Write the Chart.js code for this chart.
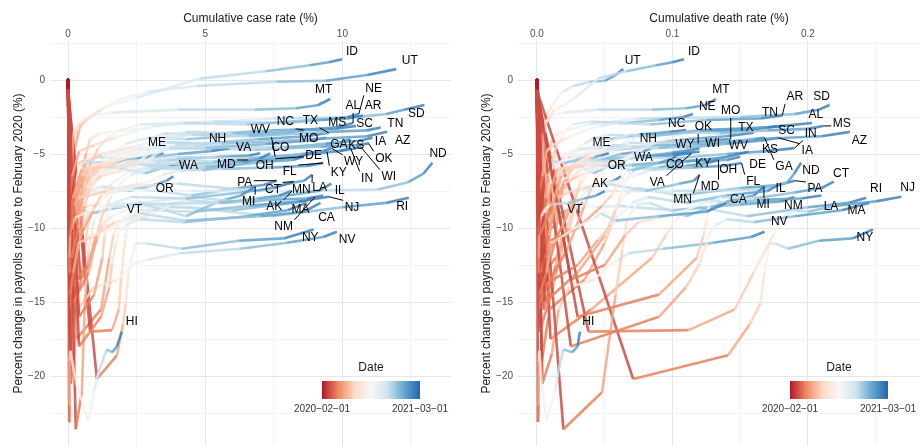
<!DOCTYPE html>
<html>
<head>
<meta charset="utf-8">
<script src="https://cdn.jsdelivr.net/npm/chart.js@4.4.0/dist/chart.umd.min.js"></script>
<style>
  body { margin: 0; background: #fff; width: 923px; height: 446px; overflow: hidden; position: relative; }
  .panel { position: absolute; top: 0; height: 446px; }
  #leftPanel { left: 0; width: 461px; }
  #rightPanel { left: 468px; width: 455px; }
</style>
</head>
<body>
<div class="panel" id="leftPanel"><canvas id="caseChart" width="461" height="446"></canvas></div>
<div class="panel" id="rightPanel"><canvas id="deathChart" width="455" height="446"></canvas></div>
<script>
// monthly observations, Feb 2020 .. Mar 2021
const months = ['2020-02-01','2020-03-01','2020-04-01','2020-05-01','2020-06-01','2020-07-01','2020-08-01',
                '2020-09-01','2020-10-01','2020-11-01','2020-12-01','2021-01-01','2021-02-01','2021-03-01'];

const states = ['AL','AK','AZ','AR','CA','CO','CT','DE','FL','GA','HI','ID','IL','IN','IA','KS','KY',
                'LA','ME','MD','MA','MI','MN','MS','MO','MT','NE','NV','NH','NJ','NM','NY','NC','ND',
                'OH','OK','OR','PA','RI','SC','SD','TN','TX','UT','VT','VA','WA','WV','WI','WY'];

// cumulative case rate (%), one row per state
const caseRate = [
  [0,0.002,0.07,0.22,0.55,1.2,2.2,2.85,3.45,4.5,6.6,8.4,9.8,10.39],
  [0,0.001,0.04,0.05,0.08,0.25,0.6,0.95,1.4,2.3,5.5,6.9,7.7,8.16],
  [0,0.002,0.05,0.17,0.5,1.75,2.6,2.9,3.1,3.6,5.6,8.8,10.9,11.63],
  [0,0.002,0.05,0.15,0.4,0.95,1.7,2.4,3.1,4.2,6.5,8.9,10.2,10.75],
  [0,0.002,0.07,0.19,0.38,0.85,1.5,1.95,2.2,2.6,4.3,7.0,8.6,9.2],
  [0,0.005,0.13,0.37,0.52,0.65,0.85,1.05,1.35,2.6,4.9,6.4,7.0,7.37],
  [0,0.005,0.4,0.95,1.25,1.33,1.39,1.47,1.67,2.3,4.3,6.3,7.5,8.22],
  [0,0.003,0.2,0.75,1.05,1.3,1.6,1.9,2.3,3.0,5.0,7.0,8.4,9.0],
  [0,0.004,0.1,0.2,0.35,1.4,2.6,3.1,3.45,4.1,5.6,7.5,8.7,9.3],
  [0,0.002,0.12,0.35,0.55,1.2,2.2,2.8,3.2,3.7,5.0,7.2,8.8,9.4],
  [0,0.001,0.037,0.045,0.052,0.08,0.3,0.74,0.95,1.1,1.41,1.6,1.78,1.96],
  [0,0.001,0.08,0.13,0.2,0.6,1.2,1.55,2.5,4.8,7.2,8.8,9.5,9.99],
  [0,0.002,0.19,0.7,1.05,1.25,1.6,2.1,2.6,4.5,6.6,8.0,9.1,9.6],
  [0,0.002,0.1,0.37,0.6,0.8,1.2,1.6,2.1,4.0,6.6,8.7,9.9,10.3],
  [0,0.001,0.06,0.45,0.75,1.05,1.55,2.4,3.4,5.8,7.9,9.4,10.6,11.1],
  [0,0.001,0.05,0.25,0.4,0.75,1.3,1.8,2.6,4.6,7.2,8.9,9.9,10.3],
  [0,0.001,0.05,0.15,0.28,0.45,0.8,1.2,1.7,3.1,5.3,7.6,8.9,9.44],
  [0,0.01,0.45,0.75,1.0,1.7,2.9,3.4,3.7,4.3,5.6,7.3,8.7,9.3],
  [0,0.002,0.05,0.1,0.2,0.26,0.31,0.36,0.42,0.65,1.5,2.5,3.1,3.48],
  [0,0.003,0.16,0.6,1.0,1.2,1.6,1.9,2.2,2.9,4.3,5.5,6.3,6.58],
  [0,0.005,0.4,1.2,1.5,1.6,1.75,1.85,2.1,2.6,4.2,6.5,8.0,8.7],
  [0,0.003,0.28,0.5,0.62,0.75,0.95,1.15,1.45,2.6,4.3,5.5,6.3,6.82],
  [0,0.001,0.04,0.24,0.55,0.75,1.15,1.55,2.1,4.0,6.9,8.0,8.6,8.9],
  [0,0.003,0.1,0.35,0.65,1.2,2.4,3.0,3.5,4.3,6.0,8.1,9.5,10.0],
  [0,0.002,0.07,0.17,0.27,0.5,1.05,1.6,2.4,3.9,5.9,7.4,8.3,8.6],
  [0,0.002,0.04,0.045,0.06,0.2,0.45,0.8,1.6,4.0,6.8,8.3,9.1,9.56],
  [0,0.001,0.05,0.5,0.85,1.1,1.45,1.9,2.6,5.3,7.9,9.3,10.2,10.6],
  [0,0.002,0.1,0.22,0.35,0.95,1.8,2.38,2.87,4.09,6.28,7.98,9.3,9.8],
  [0,0.002,0.06,0.24,0.38,0.45,0.52,0.58,0.7,1.1,2.4,4.0,5.2,5.9],
  [0,0.01,0.8,1.6,1.85,1.95,2.1,2.2,2.4,3.1,4.6,6.6,8.4,9.5],
  [0,0.002,0.08,0.27,0.45,0.7,1.1,1.3,1.6,3.4,6.0,7.7,8.6,9.0],
  [0,0.01,1.05,1.78,2.0,2.1,2.2,2.35,2.45,2.87,4.15,6.22,7.86,8.95],
  [0,0.001,0.05,0.18,0.4,0.8,1.3,1.7,2.1,2.9,4.3,6.6,8.0,8.59],
  [0,0.001,0.04,0.2,0.42,0.55,1.0,2.0,4.5,8.2,11.3,12.4,12.97,13.28],
  [0,0.002,0.07,0.22,0.35,0.55,0.95,1.25,1.6,3.2,5.8,7.4,8.2,8.59],
  [0,0.001,0.05,0.13,0.22,0.6,1.2,1.8,2.6,4.3,6.8,9.2,10.5,10.96],
  [0,0.002,0.04,0.08,0.14,0.3,0.5,0.68,0.85,1.25,2.2,3.1,3.6,3.84],
  [0,0.002,0.2,0.47,0.63,0.72,0.9,1.1,1.35,2.4,4.5,6.2,7.1,7.6],
  [0,0.003,0.3,1.2,1.5,1.65,1.85,2.1,2.6,4.3,7.4,10.0,11.6,12.42],
  [0,0.002,0.07,0.17,0.4,1.1,2.0,2.5,2.9,3.5,4.8,7.4,9.7,10.5],
  [0,0.001,0.1,0.45,0.65,0.8,1.15,2.1,3.8,7.5,10.5,11.6,12.25,12.99],
  [0,0.002,0.08,0.22,0.45,0.9,1.75,2.6,3.3,4.4,6.7,9.5,10.9,11.4],
  [0,0.001,0.05,0.15,0.3,0.95,1.9,2.4,2.8,3.5,4.9,6.9,8.7,9.5],
  [0,0.002,0.07,0.2,0.45,0.95,1.4,1.85,2.9,4.7,7.6,9.4,10.9,11.96],
  [0,0.002,0.12,0.15,0.18,0.21,0.25,0.28,0.33,0.5,0.92,1.6,2.2,2.69],
  [0,0.001,0.07,0.3,0.6,0.85,1.2,1.5,1.9,2.4,3.6,5.4,6.6,7.0],
  [0,0.01,0.14,0.24,0.33,0.55,0.85,1.05,1.25,1.75,2.8,3.7,4.1,4.33],
  [0,0.001,0.04,0.08,0.13,0.27,0.5,0.8,1.1,1.9,3.8,5.9,7.1,7.55],
  [0,0.001,0.06,0.2,0.4,0.65,1.2,1.7,2.8,5.6,7.9,9.3,10.3,10.66],
  [0,0.001,0.05,0.12,0.2,0.35,0.65,0.95,1.6,3.7,6.7,8.5,9.3,9.6]
];

// cumulative death rate (%), one row per state
const deathRate = [
  [0,0,0.002,0.011,0.018,0.025,0.04,0.05,0.058,0.068,0.085,0.12,0.17,0.203],
  [0,0,0.0012,0.0013,0.0016,0.0025,0.0045,0.0065,0.009,0.012,0.023,0.035,0.044,0.05],
  [0,0,0.002,0.008,0.015,0.035,0.063,0.074,0.079,0.088,0.115,0.16,0.21,0.231],
  [0,0,0.001,0.004,0.007,0.012,0.022,0.033,0.046,0.06,0.083,0.125,0.165,0.181],
  [0,0,0.002,0.007,0.011,0.018,0.028,0.037,0.043,0.047,0.058,0.09,0.125,0.14],
  [0,0,0.006,0.018,0.028,0.031,0.033,0.035,0.038,0.045,0.07,0.09,0.1,0.105],
  [0,0,0.03,0.09,0.118,0.123,0.125,0.126,0.128,0.136,0.16,0.19,0.21,0.219],
  [0,0,0.006,0.03,0.05,0.058,0.062,0.065,0.068,0.075,0.09,0.11,0.14,0.156],
  [0,0,0.003,0.009,0.014,0.025,0.046,0.063,0.074,0.083,0.096,0.115,0.138,0.151],
  [0,0,0.005,0.013,0.02,0.03,0.045,0.06,0.07,0.078,0.09,0.115,0.15,0.168],
  [0,0,0.0007,0.0012,0.0012,0.0017,0.0035,0.007,0.0135,0.0155,0.0195,0.026,0.03,0.0317],
  [0,0,0.002,0.004,0.005,0.007,0.013,0.02,0.028,0.045,0.066,0.088,0.1,0.1085],
  [0,0,0.006,0.03,0.045,0.055,0.06,0.065,0.07,0.082,0.11,0.14,0.17,0.18],
  [0,0,0.005,0.022,0.035,0.04,0.045,0.051,0.057,0.068,0.1,0.14,0.17,0.19],
  [0,0,0.002,0.012,0.021,0.025,0.031,0.039,0.05,0.07,0.11,0.14,0.165,0.178],
  [0,0,0.002,0.006,0.008,0.011,0.016,0.022,0.03,0.045,0.08,0.12,0.15,0.165],
  [0,0,0.003,0.008,0.011,0.014,0.02,0.025,0.03,0.038,0.055,0.075,0.1,0.12],
  [0,0,0.025,0.05,0.065,0.075,0.095,0.11,0.12,0.128,0.14,0.165,0.195,0.21],
  [0,0,0.0015,0.004,0.007,0.0085,0.0095,0.01,0.011,0.012,0.02,0.035,0.047,0.053],
  [0,0,0.006,0.03,0.048,0.055,0.06,0.063,0.067,0.072,0.085,0.11,0.126,0.134],
  [0,0,0.025,0.09,0.11,0.12,0.125,0.128,0.132,0.14,0.16,0.19,0.225,0.245],
  [0,0,0.0195,0.048,0.058,0.063,0.066,0.069,0.074,0.083,0.11,0.14,0.16,0.1675],
  [0,0,0.002,0.014,0.024,0.027,0.031,0.035,0.041,0.052,0.08,0.105,0.116,0.12],
  [0,0,0.004,0.018,0.028,0.038,0.07,0.09,0.1,0.112,0.135,0.17,0.2,0.211],
  [0,0,0.002,0.006,0.014,0.018,0.022,0.03,0.042,0.055,0.075,0.1,0.125,0.143],
  [0,0,0.0012,0.0015,0.0019,0.003,0.007,0.012,0.02,0.045,0.085,0.11,0.124,0.132],
  [0,0,0.001,0.006,0.011,0.014,0.018,0.021,0.026,0.04,0.065,0.09,0.108,0.115],
  [0,0,0.004,0.011,0.016,0.024,0.042,0.055,0.06,0.068,0.093,0.13,0.158,0.168],
  [0,0,0.002,0.012,0.022,0.029,0.031,0.032,0.034,0.037,0.047,0.062,0.079,0.085],
  [0,0,0.038,0.112,0.146,0.16,0.175,0.179,0.183,0.19,0.2,0.22,0.25,0.269],
  [0,0,0.002,0.014,0.022,0.028,0.033,0.038,0.043,0.06,0.1,0.15,0.18,0.19],
  [0,0.001,0.071,0.141,0.157,0.165,0.168,0.17,0.172,0.176,0.185,0.208,0.233,0.248],
  [0,0,0.0015,0.006,0.011,0.015,0.022,0.029,0.035,0.042,0.054,0.075,0.098,0.11],
  [0,0,0.0012,0.005,0.01,0.011,0.015,0.025,0.05,0.1,0.165,0.185,0.19,0.195],
  [0,0,0.005,0.014,0.021,0.026,0.032,0.037,0.042,0.05,0.07,0.1,0.14,0.15],
  [0,0,0.003,0.007,0.009,0.011,0.017,0.022,0.03,0.042,0.058,0.08,0.1,0.119],
  [0,0,0.002,0.0033,0.0043,0.006,0.0085,0.012,0.015,0.018,0.027,0.045,0.057,0.062],
  [0,0,0.009,0.035,0.05,0.055,0.058,0.062,0.066,0.074,0.105,0.15,0.178,0.19],
  [0,0,0.01,0.04,0.085,0.095,0.1,0.105,0.11,0.12,0.155,0.2,0.23,0.243],
  [0,0,0.002,0.008,0.012,0.022,0.045,0.06,0.07,0.077,0.09,0.12,0.16,0.18],
  [0,0,0.0008,0.005,0.009,0.011,0.0155,0.022,0.038,0.075,0.15,0.19,0.208,0.216],
  [0,0,0.002,0.005,0.008,0.011,0.02,0.03,0.04,0.053,0.075,0.12,0.155,0.17],
  [0,0,0.001,0.004,0.007,0.013,0.033,0.05,0.058,0.066,0.08,0.11,0.14,0.16],
  [0,0,0.0005,0.002,0.004,0.007,0.011,0.014,0.019,0.027,0.039,0.05,0.058,0.0637],
  [0,0,0.0035,0.0085,0.0088,0.009,0.0092,0.0093,0.0094,0.01,0.016,0.025,0.031,0.034],
  [0,0,0.002,0.012,0.019,0.024,0.03,0.035,0.04,0.044,0.052,0.07,0.1,0.114],
  [0,0.0005,0.007,0.013,0.016,0.019,0.024,0.027,0.029,0.033,0.042,0.053,0.062,0.067],
  [0,0,0.001,0.003,0.005,0.0055,0.009,0.015,0.023,0.033,0.06,0.1,0.13,0.14],
  [0,0,0.0035,0.007,0.012,0.014,0.017,0.02,0.027,0.044,0.075,0.1,0.115,0.12],
  [0,0,0.0007,0.0012,0.0017,0.0035,0.005,0.0085,0.011,0.02,0.055,0.095,0.11,0.12]
];

// percent change in payrolls relative to Feb 2020, one row per state
const payrollChange = [
  [0,-0.6,-10.5,-8.5,-6.5,-5.8,-5.2,-4.6,-4.0,-3.7,-3.8,-3.4,-3.2,-2.9],
  [0,-0.8,-13.0,-12.0,-10.2,-9.3,-9.0,-8.7,-8.5,-8.4,-8.3,-8.0,-7.8,-7.5],
  [0,-0.5,-9.5,-8.0,-6.0,-5.8,-5.5,-5.0,-4.6,-4.2,-4.3,-4.0,-3.8,-3.5],
  [0,-0.5,-8.0,-6.5,-4.8,-4.4,-3.9,-3.5,-3.1,-2.9,-3.0,-2.7,-2.6,-2.4],
  [0,-0.6,-14.5,-13.0,-11.0,-10.6,-10.0,-9.6,-9.3,-9.0,-9.5,-9.2,-8.9,-8.3],
  [0,-0.7,-12.0,-10.0,-8.0,-7.3,-6.8,-6.5,-6.0,-5.7,-6.1,-5.6,-5.3,-4.95],
  [0,-0.8,-16.0,-14.5,-12.0,-10.5,-9.5,-8.8,-8.3,-7.9,-8.0,-7.6,-7.3,-6.87],
  [0,-0.7,-15.0,-13.0,-10.5,-8.8,-7.8,-7.0,-6.4,-6.0,-5.9,-5.5,-5.2,-4.85],
  [0,-0.6,-13.0,-10.5,-8.0,-7.5,-7.0,-6.8,-6.4,-6.1,-6.0,-5.9,-5.8,-5.6],
  [0,-0.5,-11.0,-9.0,-7.0,-6.5,-6.0,-5.6,-5.0,-4.6,-4.6,-4.3,-4.1,-3.9],
  [0,-0.8,-23.1,-22.0,-19.0,-18.3,-20.5,-23.0,-21.0,-19.8,-18.2,-18.4,-18.0,-17.0],
  [0,-0.5,-9.0,-6.0,-3.8,-2.8,-2.0,-1.7,-1.2,0.1,0.6,1.0,1.2,1.4],
  [0,-0.6,-13.8,-12.5,-10.8,-9.8,-9.2,-8.8,-8.3,-7.9,-8.3,-7.8,-7.5,-7.0],
  [0,-0.7,-14.3,-11.5,-8.5,-7.3,-6.5,-6.0,-5.5,-5.2,-5.3,-5.0,-4.8,-4.6],
  [0,-0.6,-10.5,-8.5,-6.7,-6.0,-5.5,-5.1,-4.7,-4.5,-4.6,-4.3,-4.1,-3.9],
  [0,-0.5,-9.8,-8.0,-6.5,-6.0,-5.6,-5.2,-4.7,-4.5,-4.6,-4.4,-4.2,-4.0],
  [0,-0.7,-15.0,-12.0,-8.5,-7.5,-6.8,-6.3,-5.8,-5.4,-5.5,-5.2,-5.0,-4.84],
  [0,-0.6,-13.5,-12.5,-10.5,-9.6,-9.2,-8.8,-8.4,-8.1,-8.3,-8.1,-8.0,-7.8],
  [0,-0.7,-15.5,-12.5,-9.0,-7.5,-6.8,-6.3,-5.8,-5.5,-5.6,-5.3,-5.1,-4.95],
  [0,-0.6,-11.0,-10.0,-8.5,-7.8,-7.0,-6.6,-6.2,-5.9,-6.0,-5.8,-5.6,-5.4],
  [0,-0.8,-18.0,-16.0,-14.0,-12.4,-11.0,-10.3,-9.8,-9.4,-9.6,-9.2,-8.8,-8.3],
  [0,-1.0,-23.6,-21.1,-14.5,-11.5,-9.5,-9.0,-8.4,-8.3,-9.2,-8.2,-7.8,-7.2],
  [0,-0.7,-13.4,-12.0,-10.0,-9.0,-8.2,-7.6,-7.2,-7.0,-7.5,-7.0,-6.8,-6.4],
  [0,-0.6,-9.5,-7.5,-5.6,-5.0,-4.5,-4.2,-3.8,-3.5,-3.6,-3.4,-3.3,-3.1],
  [0,-0.6,-11.0,-9.0,-7.0,-6.2,-5.6,-5.1,-4.7,-4.4,-4.5,-4.3,-4.1,-4.0],
  [0,-0.7,-10.5,-7.0,-4.5,-3.5,-2.8,-2.4,-2.2,-2.0,-2.0,-1.9,-1.7,-1.28],
  [0,-0.5,-8.5,-7.0,-5.5,-4.6,-3.9,-3.4,-3.0,-2.8,-2.9,-2.7,-2.5,-2.3],
  [0,-1.0,-20.5,-18.5,-15.5,-14.0,-13.5,-12.4,-12.16,-11.7,-11.4,-11.0,-10.6,-10.25],
  [0,-0.8,-17.0,-14.0,-10.0,-8.0,-7.0,-6.2,-5.6,-5.2,-5.4,-5.0,-4.8,-4.6],
  [0,-1.0,-17.0,-16.9,-15.5,-13.0,-10.4,-9.6,-9.2,-8.8,-8.9,-8.5,-8.2,-7.88],
  [0,-0.5,-10.5,-9.8,-8.8,-8.5,-8.4,-8.5,-8.6,-8.5,-8.8,-8.4,-8.2,-7.9],
  [0,-1.0,-20.2,-18.6,-16.5,-15.1,-13.0,-11.8,-11.04,-11.04,-11.4,-10.86,-10.7,-10.1],
  [0,-0.6,-12.0,-10.0,-7.5,-6.5,-5.6,-4.9,-4.3,-3.9,-4.0,-3.7,-3.5,-3.38],
  [0,-0.6,-10.5,-9.0,-7.8,-7.6,-7.5,-7.4,-7.5,-7.5,-7.4,-6.9,-6.3,-5.59],
  [0,-0.7,-15.5,-12.5,-9.5,-8.0,-7.0,-6.4,-5.9,-5.6,-5.8,-5.5,-5.4,-5.18],
  [0,-0.6,-9.2,-7.2,-5.8,-5.4,-5.1,-4.9,-4.7,-4.6,-4.7,-4.5,-4.4,-4.28],
  [0,-0.5,-13.0,-11.0,-9.5,-8.8,-8.2,-7.8,-7.4,-7.2,-7.5,-7.1,-6.8,-6.5],
  [0,-0.8,-15.5,-13.5,-11.0,-9.8,-8.8,-8.2,-7.7,-7.3,-7.8,-7.3,-7.1,-6.8],
  [0,-1.0,-17.5,-15.5,-12.0,-10.5,-9.8,-9.2,-8.8,-8.6,-9.2,-8.6,-8.3,-7.95],
  [0,-0.6,-12.0,-9.5,-7.0,-6.2,-5.5,-4.7,-4.0,-3.6,-3.7,-3.4,-3.3,-3.1],
  [0,-0.5,-8.5,-6.8,-5.0,-4.0,-3.6,-3.4,-3.0,-2.6,-2.5,-2.3,-2.0,-1.69],
  [0,-0.5,-12.0,-9.5,-7.2,-6.0,-5.2,-4.6,-4.0,-3.7,-3.8,-3.5,-3.4,-3.2],
  [0,-0.6,-10.0,-8.5,-6.8,-6.2,-5.6,-5.1,-4.6,-4.2,-4.3,-4.0,-3.8,-3.56],
  [0,-0.6,-7.0,-5.0,-3.0,-2.3,-1.8,-1.3,-0.8,-0.4,-0.11,-0.05,0.34,0.74],
  [0,-0.8,-19.0,-16.0,-12.5,-10.5,-9.5,-9.0,-8.7,-8.8,-9.0,-8.67,-8.5,-8.27],
  [0,-0.6,-11.0,-9.5,-7.6,-6.8,-6.2,-5.9,-5.6,-5.3,-5.4,-5.2,-5.1,-4.95],
  [0,-0.7,-13.0,-11.0,-8.5,-7.5,-7.0,-6.6,-6.3,-5.9,-6.3,-5.8,-5.6,-5.29],
  [0,-0.5,-13.0,-10.5,-8.2,-7.2,-6.6,-6.2,-5.9,-5.6,-5.8,-5.5,-5.4,-5.18],
  [0,-0.7,-12.9,-11.0,-8.5,-7.3,-6.5,-6.0,-5.6,-5.2,-5.2,-4.9,-4.7,-4.5],
  [0,-0.5,-8.5,-8.0,-7.2,-6.8,-6.5,-6.2,-5.6,-5.2,-5.3,-5.0,-4.8,-4.6]
];

// where the repelled state labels sit (data units of each panel)
const caseLabelAt = {
  ID:[10.35,1.91], UT:[12.46,1.31], MT:[9.32,-0.63], NE:[11.14,-0.56], AL:[10.38,-1.76], AR:[11.12,-1.76],
  SD:[12.7,-2.25], TN:[11.93,-2.93], SC:[10.81,-2.97], MS:[9.81,-2.88], TX:[8.83,-2.75], NC:[7.92,-2.82],
  IA:[11.39,-4.17], AZ:[12.2,-4.1], MO:[8.77,-3.94], GA:[9.87,-4.35], KS:[10.51,-4.44], OK:[11.51,-5.29],
  WI:[11.69,-6.53], IN:[10.9,-6.64], WY:[10.41,-5.52], KY:[9.87,-6.26], DE:[8.95,-5.14], WV:[7.01,-3.38],
  CO:[7.74,-4.57], VA:[6.4,-4.57], NH:[5.45,-3.94], ME:[3.24,-4.24], MD:[5.77,-5.74], OH:[7.17,-5.79],
  WA:[4.39,-5.81], FL:[8.08,-6.22], PA:[6.44,-6.94], CT:[7.47,-7.39], MN:[8.5,-7.43], LA:[9.17,-7.28],
  IL:[9.9,-7.48], MI:[6.58,-8.22], AK:[7.52,-8.56], OR:[3.52,-7.32], RI:[12.18,-8.56], NJ:[10.35,-8.6],
  MA:[8.47,-8.78], CA:[9.42,-9.3], VT:[2.42,-8.78], ND:[13.49,-5.0], NM:[7.86,-9.91], NY:[8.83,-10.63],
  NV:[10.17,-10.77], HI:[2.32,-16.33]
};
const deathLabelAt = {
  ID:[0.1159,1.91], UT:[0.0706,1.31], MT:[0.1358,-0.63], NE:[0.1257,-1.8], MO:[0.143,-2.09], NC:[0.1031,-2.93],
  OK:[0.1228,-3.15], AR:[0.1904,-1.13], SD:[0.2101,-1.13], TN:[0.172,-2.2], AL:[0.2059,-2.36], MS:[0.2249,-2.93],
  TX:[0.1542,-3.22], SC:[0.1843,-3.42], IN:[0.202,-3.6], AZ:[0.2379,-4.1], NH:[0.0822,-3.94], ME:[0.0477,-4.24],
  WY:[0.1092,-4.39], WI:[0.1297,-4.32], WV:[0.1486,-4.46], KS:[0.172,-4.68], IA:[0.1995,-4.78], WA:[0.0785,-5.23],
  CO:[0.1018,-5.74], KY:[0.1228,-5.63], OH:[0.1412,-6.03], DE:[0.1629,-5.74], GA:[0.1823,-5.86], OR:[0.0588,-5.81],
  ND:[0.2022,-6.15], CT:[0.2244,-6.3], AK:[0.0465,-6.98], VA:[0.0888,-6.94], MD:[0.1277,-7.21], FL:[0.1596,-6.87],
  IL:[0.1798,-7.32], PA:[0.2052,-7.36], RI:[0.2502,-7.36], NJ:[0.2736,-7.28], MN:[0.1075,-8.11], CA:[0.1486,-8.06],
  MI:[0.167,-8.45], NM:[0.1892,-8.51], LA:[0.217,-8.56], MA:[0.2359,-8.83], VT:[0.028,-8.78], NV:[0.1788,-9.57],
  NY:[0.242,-10.63], HI:[0.0379,-16.33]
};

const FONT = '"Liberation Sans", Arial, sans-serif';
Chart.defaults.font.family = FONT;

// RdBu (distiller) ramp, early = red, late = blue
const ramp = ['#b2182b','#ef8a62','#fddbc7','#f7f7f7','#d1e5f0','#67a9cf','#2166ac'];
function hexToRgb(h) { return [1,3,5].map(k => parseInt(h.substr(k,2),16)); }
function colourAt(t, alpha) {
  const pos = Math.min(Math.max(t,0),1) * (ramp.length - 1);
  const k = Math.min(Math.floor(pos), ramp.length - 2);
  const f = pos - k;
  const a = hexToRgb(ramp[k]), b = hexToRgb(ramp[k+1]);
  const c = a.map((v, n) => Math.round(v + (b[n] - v) * f));
  return 'rgba(' + c.join(',') + ',' + alpha + ')';
}
const t0 = Date.parse(months[0]), t1 = Date.parse(months[months.length - 1]);
const monthT = months.map(m => (Date.parse(m) - t0) / (t1 - t0));

function buildDatasets(xRows) {
  return states.map((st, i) => ({
    label: st,
    data: xRows[i].map((x, j) => ({ x: x, y: payrollChange[i][j] })),
    showLine: true,
    pointRadius: 0,
    pointHoverRadius: 0,
    borderWidth: 2.6,
    borderJoinStyle: 'round',
    borderColor: colourAt(0, 0.85),
    segment: { borderColor: ctx => colourAt(monthT[ctx.p0DataIndex], 0.85) }
  }));
}

const stateLabels = {
  id: 'stateLabels',
  afterDatasetsDraw(chart, args, opts) {
    const { ctx, scales: { x, y } } = chart;
    ctx.save();
    ctx.font = '12px ' + FONT;
    const boxes = [];
    states.forEach((st, i) => {
      const pos = opts.at[st];
      if (!pos) return;
      const last = months.length - 1;
      const ex = x.getPixelForValue(opts.xs[i][last]);
      const ey = y.getPixelForValue(payrollChange[i][last]);
      const lx = x.getPixelForValue(pos[0]);
      const ly = y.getPixelForValue(pos[1]);
      const hw = ctx.measureText(st).width / 2 + 1.5, hh = 7;
      const nx = Math.max(lx - hw, Math.min(ex, lx + hw));
      const ny = Math.max(ly - hh, Math.min(ey, ly + hh));
      if (Math.hypot(nx - ex, ny - ey) > 8) {
        ctx.strokeStyle = '#000';
        ctx.lineWidth = 1;
        ctx.beginPath();
        ctx.moveTo(ex, ey);
        ctx.lineTo(nx, ny);
        ctx.stroke();
      }
      boxes.push([st, lx, ly]);
    });
    ctx.fillStyle = '#000';
    ctx.textAlign = 'center';
    ctx.textBaseline = 'middle';
    boxes.forEach(b => ctx.fillText(b[0], b[1], b[2]));
    ctx.restore();
  }
};

const dateLegend = {
  id: 'dateLegend',
  afterDraw(chart) {
    const ctx = chart.ctx;
    const x0 = 322, x1 = 420, yTop = 381, yBot = 399;
    ctx.save();
    const g = ctx.createLinearGradient(x0, 0, x1, 0);
    ramp.forEach((c, k) => g.addColorStop(k / (ramp.length - 1), c));
    ctx.fillStyle = g;
    ctx.fillRect(x0, yTop, x1 - x0, yBot - yTop);
    ctx.fillStyle = '#1a1a1a';
    ctx.textAlign = 'center';
    ctx.textBaseline = 'middle';
    ctx.font = '12px ' + FONT;
    ctx.fillText('Date', 371, 368);
    ctx.font = '10px ' + FONT;
    ctx.fillStyle = '#333';
    ctx.fillText(months[0].replace(/-/g, '\u2212'), x0, 409);
    ctx.fillText(months[months.length - 1].replace(/-/g, '\u2212'), x1, 409);
    ctx.restore();
  }
};

function makeChart(canvasId, xRows, xTitle, xMin, xMax, xStep, xFmt, labelAt, padRight) {
  const isMajorX = v => Math.abs(v / (xStep * 2) - Math.round(v / (xStep * 2))) < 1e-6;
  return new Chart(document.getElementById(canvasId), {
    type: 'scatter',
    data: { datasets: buildDatasets(xRows) },
    options: {
      responsive: false,
      animation: false,
      layout: { padding: { left: 0, right: padRight, top: 0, bottom: 0 } },
      plugins: {
        legend: { display: false },
        tooltip: { enabled: false },
        stateLabels: { at: labelAt, xs: xRows }
      },
      scales: {
        x: {
          type: 'linear', position: 'top', min: xMin, max: xMax,
          border: { display: false },
          grid: {
            drawTicks: false,
            color: c => (c.tick && isMajorX(c.tick.value)) ? '#e6e6e6' : '#f3f3f3',
            lineWidth: 1
          },
          ticks: {
            stepSize: xStep, includeBounds: false, autoSkip: false, maxRotation: 0,
            padding: 1, color: '#4d4d4d', font: { size: 10 },
            callback: v => isMajorX(v) ? xFmt(v) : ''
          },
          title: { display: true, text: xTitle, color: '#1a1a1a', font: { size: 12 }, padding: { top: 11, bottom: 0 } },
          afterFit: s => { s.height = 41; s.paddingLeft = 0; s.paddingRight = 0; }
        },
        y: {
          type: 'linear', position: 'left', min: -24.73, max: 2.64,
          border: { display: false },
          grid: {
            drawTicks: false,
            color: c => (c.tick && Math.abs(c.tick.value % 5) < 1e-6) ? '#e6e6e6' : '#f3f3f3',
            lineWidth: 1
          },
          ticks: {
            stepSize: 2.5, includeBounds: false, autoSkip: false,
            padding: 5, color: '#4d4d4d', font: { size: 10 },
            callback: v => Math.abs(v % 5) < 1e-6 ? (v < 0 ? '\u2212' + Math.abs(v) : String(v)) : ''
          },
          title: { display: true, text: 'Percent change in payrolls relative to February 2020 (%)',
                   color: '#1a1a1a', font: { size: 12 }, padding: { top: 11, bottom: 0 } },
          afterFit: s => { s.width = 50; s.paddingTop = 0; s.paddingBottom = 0; }
        }
      }
    },
    plugins: [stateLabels, dateLegend]
  });
}

makeChart('caseChart', caseRate, 'Cumulative case rate (%)', -0.66, 13.96, 2.5,
          v => String(Math.round(v)), caseLabelAt, 10);
makeChart('deathChart', deathRate, 'Cumulative death rate (%)', -0.014, 0.2827, 0.05,
          v => v.toFixed(1), deathLabelAt, 3);
</script>
</body>
</html>
